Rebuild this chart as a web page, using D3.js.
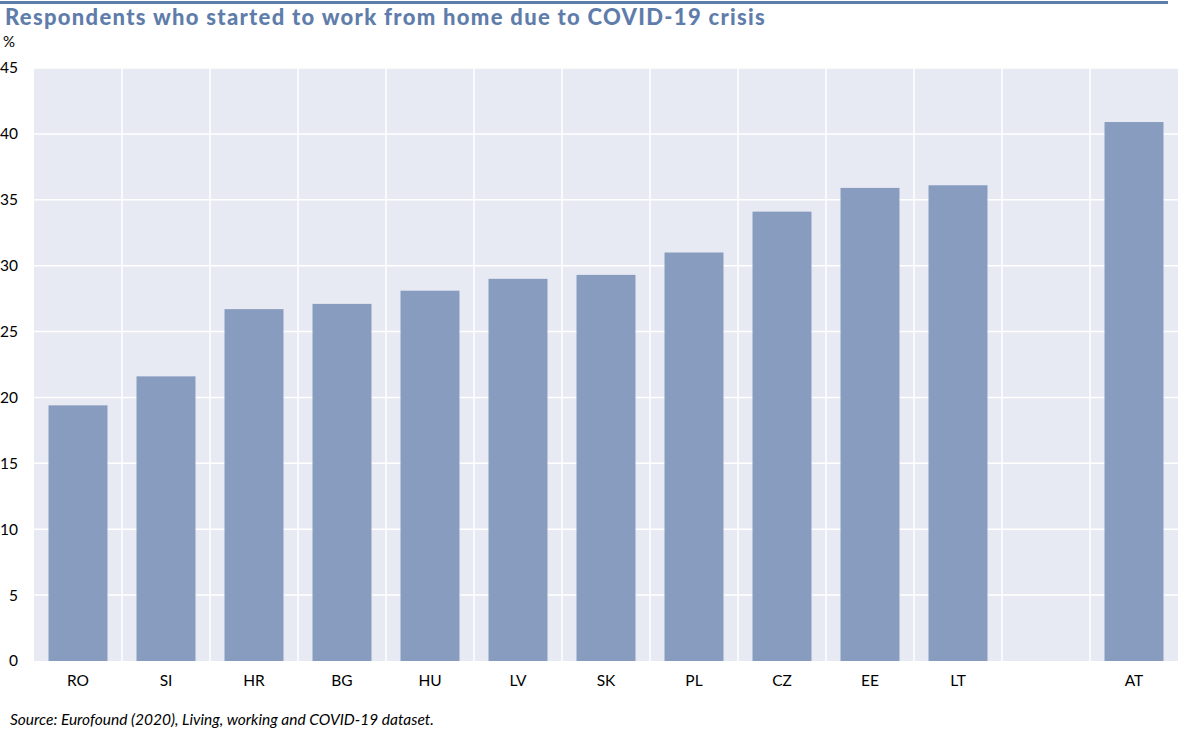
<!DOCTYPE html>
<html lang="en">
<head>
<meta charset="UTF-8">
<title>Work from home</title>
<script src="https://d3js.org/d3.v7.min.js"></script>
<style>
  body { margin: 0; background: #fff; }
  svg, svg text { font-family: Lato, "Open Sans", sans-serif; }
  .tick text { font-size: 15.5px; fill: #000; }
</style>
</head>
<body>
<svg width="1181" height="740"></svg>
<script>
var countries = ["RO", "SI", "HR", "BG", "HU", "LV", "SK", "PL", "CZ", "EE", "LT", "", "AT"];
var shares = [19.4, 21.6, 26.7, 27.1, 28.1, 29.0, 29.3, 31.0, 34.1, 35.9, 36.1, null, 40.9];
var yTicks = [0, 5, 10, 15, 20, 25, 30, 35, 40, 45];

var svg = d3.select("svg");
var mLeft = 34, mRight = 1178, mTop = 68, mBottom = 661;

// slot names must be unique for the band scale, the gap gets its own key
var slots = countries.map((c, i) => c === "" ? "_gap" + i : c);

var x = d3.scaleBand().domain(slots).range([mLeft, mRight]).paddingInner(0.33).paddingOuter(0.165);
var xGrid = d3.scaleBand().domain(slots).range([mLeft, mRight]);
var y = d3.scaleLinear().domain([0, 45]).range([mBottom, mTop]);

// top rule and title
svg.append("rect").attr("x", 0).attr("y", 1).attr("width", 1168).attr("height", 3).attr("fill", "#5f7dab");
svg.append("text").attr("x", 5).attr("y", 25)
  .attr("font-size", 22).attr("font-weight", 900).attr("fill", "#5f7dab")
  .attr("letter-spacing", 1.3)
  .text("Respondents who started to work from home due to COVID-19 crisis");
svg.append("text").attr("x", 3).attr("y", 47).attr("font-size", 15).text("%");

// plot background
svg.append("rect").attr("x", mLeft).attr("y", mTop).attr("width", mRight - mLeft).attr("height", mBottom - mTop)
  .attr("fill", "#e7eaf2");

svg.append("g").selectAll("line").data(yTicks.slice(1)).join("line")
  .attr("x1", mLeft).attr("x2", mRight)
  .attr("y1", d => y(d)).attr("y2", d => y(d))
  .attr("stroke", "#fff").attr("stroke-width", 1.5);

svg.append("g").selectAll("line").data(slots.slice(1)).join("line")
  .attr("x1", d => xGrid(d)).attr("x2", d => xGrid(d))
  .attr("y1", mTop).attr("y2", mBottom)
  .attr("stroke", "#fff").attr("stroke-width", 1.5);

var data = slots.map((s, i) => ({ slot: s, v: shares[i] })).filter(d => d.v != null);

svg.append("g").selectAll("rect").data(data).join("rect")
  .attr("x", d => x(d.slot))
  .attr("width", x.bandwidth())
  .attr("y", d => y(d.v))
  .attr("height", d => y(0) - y(d.v))
  .attr("fill", "#889cbf");

var xAxis = d3.axisBottom(x).tickSize(0).tickPadding(14).tickFormat(d => d.startsWith("_gap") ? "" : d);
svg.append("g").attr("transform", "translate(0," + mBottom + ")").call(xAxis)
  .attr("font-family", null)
  .call(g => g.select(".domain").remove());

var yAxis = d3.axisLeft(y).tickValues(yTicks).tickSize(0).tickPadding(0);
svg.append("g").attr("transform", "translate(18,0)").call(yAxis)
  .attr("font-family", null)
  .call(g => g.select(".domain").remove());

svg.append("text").attr("x", 10).attr("y", 725)
  .attr("font-size", 15.5).attr("font-style", "italic")
  .text("Source: Eurofound (2020), Living, working and COVID-19 dataset.");
</script>
</body>
</html>
